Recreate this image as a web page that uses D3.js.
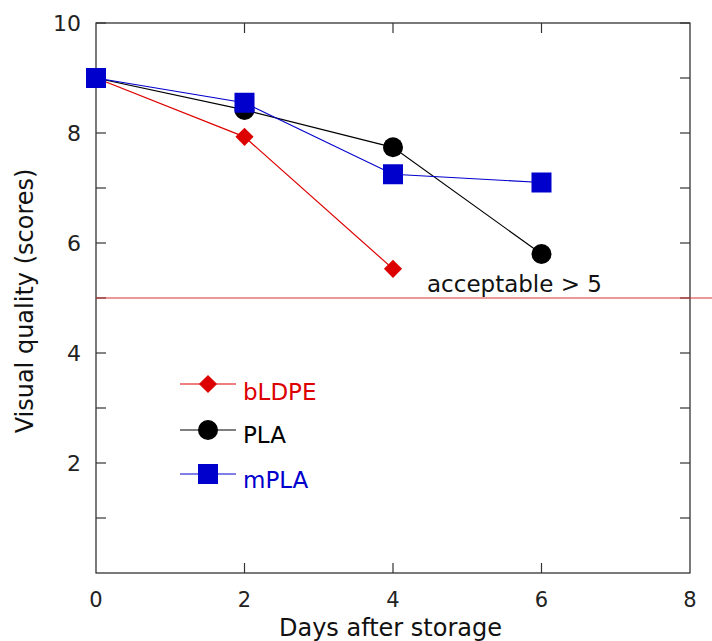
<!DOCTYPE html>
<html><head><meta charset="utf-8">
<script src="https://cdn.jsdelivr.net/npm/d3@7"></script>
<style>body{margin:0;background:#fff}svg{display:block}</style>
</head><body>
<svg id="c" width="712" height="641"></svg>
<script>
const days = [0, 2, 4, 6];
const bLDPE = [9, 7.93, 5.53];
const PLA = [9, 8.42, 7.74, 5.8];
const mPLA = [9, 8.55, 7.25, 7.1];
const seriesNames = ["bLDPE", "PLA", "mPLA"];
const xTicks = [0, 2, 4, 6, 8];
const yTicks = [2, 4, 6, 8, 10];
const yMinor = [1, 3, 5, 7, 9];
const threshold = 5;
const thresholdLabel = "acceptable > 5";

const svg = d3.select("#c");
const L = 96, R = 690, T = 23, B = 573;
const x = d3.scaleLinear().domain([0, 8]).range([L, R]);
const y = d3.scaleLinear().domain([0, 10]).range([B, T]);
const font = "'DejaVu Sans', 'Noto Sans', sans-serif";

// frame
svg.append("rect").attr("x", L).attr("y", T).attr("width", R - L).attr("height", B - T)
  .attr("fill", "none").attr("stroke", "#222").attr("stroke-width", 1.2);

// ticks (inward)
const tl = 10;
const g = svg.append("g").attr("stroke", "#333").attr("stroke-width", 1.2);
[...yTicks, ...yMinor].forEach(v => {
  g.append("line").attr("x1", L).attr("x2", L + tl).attr("y1", y(v)).attr("y2", y(v));
  g.append("line").attr("x1", R).attr("x2", R - tl).attr("y1", y(v)).attr("y2", y(v));
});
xTicks.slice(1, -1).forEach(v => {
  g.append("line").attr("x1", x(v)).attr("x2", x(v)).attr("y1", B).attr("y2", B - tl);
  g.append("line").attr("x1", x(v)).attr("x2", x(v)).attr("y1", T).attr("y2", T + tl);
});

// tick labels
svg.append("g").selectAll("text").data(xTicks).join("text")
  .attr("x", d => x(d)).attr("y", 607).attr("text-anchor", "middle")
  .attr("font-family", font).attr("font-size", 21).attr("fill", "#222").text(d => d);
svg.append("g").selectAll("text").data(yTicks).join("text")
  .attr("x", 81).attr("y", d => y(d) + 8).attr("text-anchor", "end")
  .attr("font-family", font).attr("font-size", 22).attr("fill", "#222").text(d => d);

// axis titles
svg.append("text").attr("x", (278 + 503) / 2).attr("y", 636).attr("text-anchor", "middle")
  .attr("font-family", font).attr("font-size", 24).attr("fill", "#111").text("Days after storage");
svg.append("text").attr("transform", `translate(33,${y(5) + 3}) rotate(-90)`).attr("text-anchor", "middle")
  .attr("font-family", font).attr("font-size", 24).attr("fill", "#111").text("Visual quality (scores)");

// threshold
svg.append("line").attr("x1", L).attr("x2", 712).attr("y1", y(threshold)).attr("y2", y(threshold))
  .attr("stroke", "#e03030").attr("stroke-width", 1.2);
svg.append("text").attr("x", 427).attr("y", 292).attr("font-family", font).attr("font-size", 23)
  .attr("fill", "#111").text(thresholdLabel);

const colors = { bLDPE: "#dd0000", PLA: "#000000", mPLA: "#0000cc" };
const data = { bLDPE, PLA, mPLA };
const line = d3.line().x((d, i) => x(days[i])).y(d => y(d));

function marker(sel, name, cx, cy) {
  const c = colors[name];
  if (name === "bLDPE") {
    sel.append("path").attr("d", d3.symbol(d3.symbolDiamond2, 210)())
      .attr("transform", `translate(${cx},${cy})`).attr("fill", c);
  } else if (name === "PLA") {
    sel.append("circle").attr("cx", cx).attr("cy", cy).attr("r", 10).attr("fill", c);
  } else {
    sel.append("rect").attr("x", cx - 10).attr("y", cy - 10).attr("width", 20).attr("height", 20).attr("fill", c);
  }
}

const order = ["bLDPE", "PLA", "mPLA"];
order.forEach(name => {
  svg.append("path").datum(data[name]).attr("d", line).attr("fill", "none")
    .attr("stroke", colors[name]).attr("stroke-width", 1.2);
});
order.forEach(name => {
  const gg = svg.append("g");
  data[name].forEach((v, i) => marker(gg, name, x(days[i]), y(v)));
});

// legend
const legY = [384, 430, 474];
const legText = [400, 443, 488];
seriesNames.forEach((name, i) => {
  const gg = svg.append("g");
  gg.append("line").attr("x1", 180).attr("x2", 236).attr("y1", legY[i]).attr("y2", legY[i])
    .attr("stroke", colors[name]).attr("stroke-width", 1.2);
  marker(gg, name, 208, legY[i]);
  gg.append("text").attr("x", 243).attr("y", legText[i]).attr("font-family", font)
    .attr("font-size", 23).attr("fill", colors[name]).text(name);
});
</script>
</body></html>
